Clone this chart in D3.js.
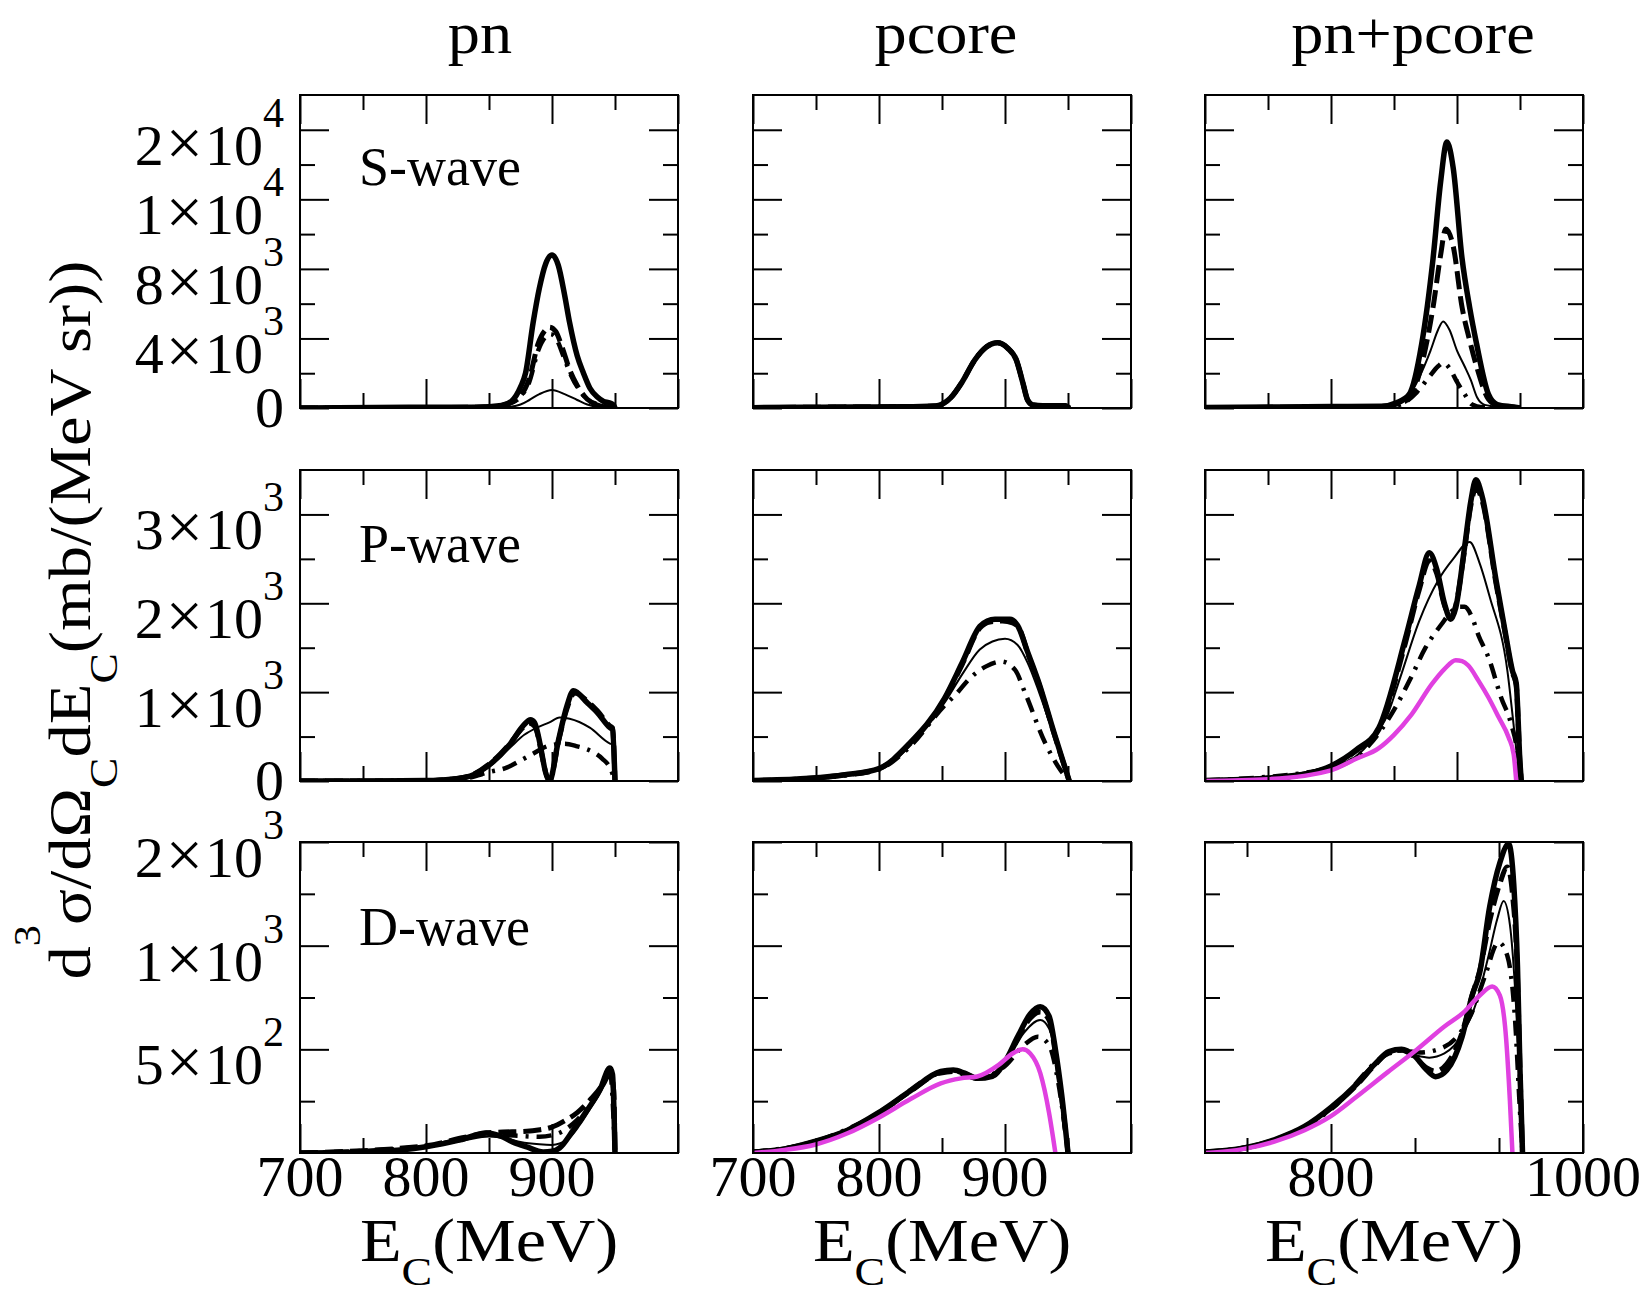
<!DOCTYPE html>
<html>
<head>
<meta charset="utf-8">
<script src="https://cdn.jsdelivr.net/npm/d3@7"></script>
<style>
  body { margin: 0; background: #fff; }
  svg { display: block; }
  text { font-family: "Liberation Serif", "Times New Roman", serif; fill: #000; }
</style>
</head>
<body>
<svg id="chart" width="1648" height="1296"></svg>
<script>
// ---- values: [E_C (MeV), d3sigma] ----
// S-wave, pn
let pnS_thick = [[700,0],[760,30],[800,40],[840,50],[860,150],[868,400],[875,1200],[879,2000],[885,4900],[890,6900],[895,8300],[900,8800],[905,8200],[910,6500],[914,4900],[920,3000],[925,2000],[930,1150],[936,630],[941,380],[946,290],[949,150],[950,0]]
let pnS_dashed = [[700,0],[800,20],[850,60],[865,250],[875,700],[882,1700],[889,3700],[895,4500],[898,4650],[903,4400],[908,3500],[914,2200],[920,1300],[928,500],[936,200],[945,60],[950,0]]
let pnS_thin = [[700,0],[850,10],[865,60],[875,200],[882,460],[890,800],[900,1035],[910,800],[920,460],[928,200],[938,50],[950,0]]
let pnS_dashdot = [[700,0],[800,20],[850,60],[865,230],[875,650],[882,1500],[889,3300],[895,4100],[899,4250],[904,3900],[909,3000],[915,1900],[922,1000],[930,400],[940,100],[950,0]]
// S-wave, pcore (all curves coincide)
let pcoreS_all = [[700,20],[740,40],[780,60],[820,70],[845,120],[852,300],[857,600],[866,1500],[876,2760],[885,3500],[894,3750],[902,3450],[909,2760],[914,1500],[918,450],[922,180],[930,130],[948,130],[951,0]]
// S-wave, pn+pcore
let pnpcS_thick = [[700,30],[760,60],[800,80],[840,100],[852,300],[862,780],[872,3700],[881,8600],[887,13000],[892,15300],[897,13800],[904,8600],[910,5800],[915.5,3700],[925,780],[932,200],[945,60],[950,0]]
let pnpcS_dashed = [[700,20],[800,60],[840,80],[852,220],[862,550],[872,2500],[881,5800],[887,8800],[891,10300],[897,9300],[904,5800],[910,3900],[915.5,2400],[925,500],[932,150],[945,40],[950,0]]
let pnpcS_thin = [[700,20],[800,50],[845,80],[855,250],[862,700],[870,1756],[879,3300],[885,4500],[889,4975],[894,4500],[900,3300],[906,2400],[911,1600],[916,600],[922,180],[935,50],[950,0]]
let pnpcS_dashdot = [[700,15],[800,40],[848,70],[858,300],[868,900],[878,1800],[885,2400],[889,2600],[894,2300],[900,1500],[906,800],[912,200],[920,50],[950,0]]

// P-wave, pn
let pnP_thick = [[700,0],[760,0],[800,5],[820,20],[835,56],[851,190],[867,420],[877,620],[883,690],[886,660],[898,0],[905,450],[912,850],[917,1016],[928,880],[936,770],[946,600],[948,580],[950,0]]
let pnP_dashed = [[700,0],[760,0],[800,5],[820,20],[835,60],[851,200],[867,430],[877,600],[882,650],[886,620],[898,10],[906,500],[912,820],[918,990],[928,900],[936,790],[946,620],[948,600],[950,0]]
let pnP_thin = [[700,0],[800,5],[820,18],[835,50],[851,170],[867,380],[878,520],[888,600],[898,660],[906,715],[914,700],[930,600],[946,421],[948,410],[950,0]]
let pnP_dashdot = [[700,0],[800,5],[820,15],[835,40],[850,100],[864,150],[875,230],[884,300],[897,395],[910,420],[920,390],[932,330],[940,250],[946,150],[950,0]]
// P-wave, pcore
let pcoreP_thick = [[700,5],[745,30],[773,70],[800,140],[824,420],[852,930],[866,1330],[880,1740],[886,1800],[892,1820],[904,1820],[910,1750],[918,1450],[927,1100],[939,540],[951,0]]
let pcoreP_dashed = [[700,5],[745,30],[773,70],[800,138],[824,410],[852,920],[866,1310],[880,1720],[888,1790],[898,1800],[906,1780],[912,1700],[918,1440],[927,1090],[939,530],[951,0]]
let pcoreP_thin = [[700,5],[745,28],[773,65],[800,135],[824,400],[852,880],[866,1200],[880,1480],[890,1570],[900,1600],[910,1530],[918,1330],[927,1000],[939,500],[951,0]]
let pcoreP_dashdot = [[700,5],[745,28],[773,62],[800,130],[824,380],[852,850],[862,990],[871,1140],[885,1290],[897,1345],[908,1250],[916,990],[932,425],[944,124],[951,0]]
// P-wave, pn+pcore
let pnpcP_thick = [[700,5],[750,30],[780,80],[800,170],[820,350],[838,600],[859,1600],[870,2200],[878,2570],[884,2380],[890,2000],[895,1820],[899,1950],[906,2630],[911,3150],[915,3390],[920,3200],[931,2260],[938,1700],[944,1240],[947,1100],[950,200],[951,0]]
let pnpcP_dashed = [[700,5],[750,30],[780,80],[800,165],[820,340],[838,580],[859,1550],[870,2150],[878,2480],[884,2330],[890,1980],[895,1850],[899,1980],[906,2600],[911,3100],[915,3300],[920,3150],[931,2220],[938,1680],[944,1220],[947,1080],[950,200],[951,0]]
let pnpcP_thin = [[700,5],[800,150],[830,420],[845,750],[855,1166],[870,1800],[885,2257],[897,2500],[910,2690],[918,2450],[926,2070],[940,1240],[946,490],[949,100],[950,0]]
let pnpcP_dashdot = [[700,5],[800,140],[830,400],[850,800],[863,1150],[875,1500],[888,1770],[895,1900],[901,1960],[906,1960],[912,1840],[917,1640],[925,1390],[935,940],[943,640],[948,300],[950,0]]
let pnpcP_magenta = [[700,0],[750,20],[800,120],[820,250],[838,370],[850,520],[864,750],[880,1090],[890,1260],[899,1360],[904,1350],[909,1300],[917,1130],[925,940],[933,720],[941,490],[945,300],[947,0]]

// D-wave, pn
let pnD_thick = [[700,0],[750,5],[780,15],[800,30],[827,63],[848,97],[859,82],[870,50],[880,29],[893,5],[900,8],[906,24],[917,111],[928,207],[938,304],[946,410],[948,380],[950,0]]
let pnD_dashed = [[700,0],[800,35],[830,75],[850,98],[861,101],[880,105],[889,111],[900,125],[910,155],[920,195],[930,255],[940,330],[946,400],[949,300],[950,0]]
let pnD_thin = [[700,0],[800,30],[830,60],[850,80],[865,68],[875,53],[890,42],[900,39],[912,63],[922,135],[932,230],[942,330],[947,380],[950,0]]
let pnD_dashdot = [[700,0],[800,32],[850,88],[870,84],[890,78],[905,95],[920,160],[935,270],[946,390],[950,0]]
// D-wave, pcore
let pcoreD_thick = [[700,5],[725,20],[749,56],[775,110],[799,192],[825,300],[849,393],[859,400],[868,385],[878,360],[890,370],[900,440],[910,560],[920,670],[928,705],[935,660],[940,500],[945,280],[950,0]]
let pcoreD_dashed = [[700,5],[725,20],[749,55],[775,108],[799,190],[825,298],[849,390],[859,398],[868,383],[878,362],[890,372],[900,435],[910,550],[920,650],[928,680],[935,640],[940,480],[945,260],[950,0]]
let pcoreD_thin = [[700,5],[749,55],[799,190],[849,385],[859,395],[878,360],[900,430],[915,580],[928,641],[935,600],[942,400],[947,180],[950,0]]
let pcoreD_dashdot = [[700,5],[749,55],[799,188],[849,385],[859,392],[878,360],[900,420],[915,520],[926,561],[935,520],[942,350],[948,100],[950,0]]
let pcoreD_magenta = [[700,0],[725,15],[749,40],[775,95],[799,168],[825,260],[849,336],[865,360],[878,369],[895,425],[906,480],[914,500],[920,480],[928,385],[935,192],[938,80],[940,0]]
// D-wave, pn+pcore
let pnpcD_thick = [[700,5],[731,24],[755,64],[779,128],[800,220],[820,330],[835,430],[846,489],[856,500],[866,470],[876,400],[883,368],[892,400],[904,560],[912,760],[918,870],[926,1190],[934,1400],[941,1490],[945,1300],[948,900],[950,400],[952,0]]
let pnpcD_dashed = [[700,5],[731,24],[755,63],[779,126],[800,215],[820,325],[835,425],[846,485],[856,495],[866,465],[876,410],[883,395],[892,430],[904,580],[912,760],[918,880],[926,1120],[934,1300],[940,1380],[944,1250],[948,850],[950,400],[952,0]]
let pnpcD_thin = [[700,5],[755,60],[800,215],[846,480],[856,495],[868,470],[878,460],[890,480],[904,570],[915,720],[925,950],[932,1130],[937,1215],[942,1100],[946,800],[950,300],[952,0]]
let pnpcD_dashdot = [[700,5],[755,60],[800,210],[846,480],[856,495],[870,485],[885,500],[900,560],[912,680],[922,850],[933,1016],[940,950],[946,650],[950,200],[952,0]]
let pnpcD_magenta = [[700,0],[731,20],[755,55],[779,110],[799,174],[820,270],[845,390],[868,498],[890,610],[905,677],[918,760],[928,803],[934,760],[939,550],[942,250],[944,0]]

// ---- labels and ticks ----
let colTitles = ['pn', 'pcore', 'pn+pcore']
let waveNames = ['S-wave', 'P-wave', 'D-wave']
let yMax = [18000, 3500, 1500]
let yMajor = [[0, 4000, 8000, 12000, 16000], [0, 1000, 2000, 3000], [500, 1000, 1500]]
let yMinor = [[2000, 6000, 10000, 14000], [500, 1500, 2500], [250, 750, 1250]]
let yLabels = [
  [['0', ''], ['4', '3'], ['8', '3'], ['1', '4'], ['2', '4']],
  [['0', ''], ['1', '3'], ['2', '3'], ['3', '3']],
  [['5', '2'], ['1', '3'], ['2', '3']]
]
let xMajor = [700, 800, 900, 1000]
let xMinor = [750, 850, 950]
let xMajorLast = [800, 1000]
let xMinorLast = [733.33, 866.67, 933.33]
let xLabels = [['700', '800', '900'], ['700', '800', '900'], ['800', '1000']]

let panelCurves = [
  [
    [[pnS_thick, 'thick'], [pnS_dashed, 'dashed'], [pnS_dashdot, 'dashdot'], [pnS_thin, 'thin']],
    [[pcoreS_all, 'dashed'], [pcoreS_all, 'dashdot'], [pcoreS_all, 'thin'], [pcoreS_all, 'thick']],
    [[pnpcS_thick, 'thick'], [pnpcS_dashed, 'dashed'], [pnpcS_dashdot, 'dashdot'], [pnpcS_thin, 'thin']]
  ],
  [
    [[pnP_thick, 'thick'], [pnP_dashed, 'dashed'], [pnP_dashdot, 'dashdot'], [pnP_thin, 'thin']],
    [[pcoreP_thick, 'thick'], [pcoreP_dashed, 'dashed'], [pcoreP_dashdot, 'dashdot'], [pcoreP_thin, 'thin']],
    [[pnpcP_thick, 'thick'], [pnpcP_dashed, 'dashed'], [pnpcP_dashdot, 'dashdot'], [pnpcP_thin, 'thin'], [pnpcP_magenta, 'magenta']]
  ],
  [
    [[pnD_thick, 'thick'], [pnD_dashed, 'dashed'], [pnD_dashdot, 'dashdot'], [pnD_thin, 'thin']],
    [[pcoreD_thick, 'thick'], [pcoreD_dashed, 'dashed'], [pcoreD_dashdot, 'dashdot'], [pcoreD_thin, 'thin'], [pcoreD_magenta, 'magenta']],
    [[pnpcD_thick, 'thick'], [pnpcD_dashed, 'dashed'], [pnpcD_dashdot, 'dashdot'], [pnpcD_thin, 'thin'], [pnpcD_magenta, 'magenta']]
  ]
]

let styles = {
  thick:   { color: '#000', width: 5.5, dash: null },
  dashed:  { color: '#000', width: 5,   dash: '18,7' },
  dashdot: { color: '#000', width: 4.5, dash: '15,8,3,8' },
  thin:    { color: '#000', width: 2,   dash: null },
  magenta: { color: '#e040e0', width: 4.5, dash: null }
}

// ---- layout ----
let colLeft = [300, 753, 1205]
let rowTop = [95, 470, 842]
let rowHeight = [313, 311, 311]
let panelW = 378
let titleX = [480, 946, 1413]
let majorLen = 29, minorLen = 15
let fontTick = 58

let svg = d3.select('#chart')
svg.append('rect').attr('width', 1648).attr('height', 1296).attr('fill', '#fff')

let x = d3.scaleLinear().domain([700, 1000]).range([0, panelW])

let drawTicks = (g, axis, values, len) => {
  g.call(axis.tickValues(values).tickSize(-len).tickSizeOuter(0).tickFormat(''))
  g.select('.domain').remove()
  g.selectAll('line').attr('stroke', '#000').attr('stroke-width', 2)
}

rowTop.forEach((top, r) => {
  let h = rowHeight[r]
  let y = d3.scaleLinear().domain([0, yMax[r]]).range([h, 0])
  colLeft.forEach((left, c) => {
    let g = svg.append('g').attr('transform', `translate(${left},${top})`)
    let lastCol = (r === 2 && c === 2)
    let xMaj = lastCol ? xMajorLast : xMajor
    let xMin = lastCol ? xMinorLast : xMinor

    let clipId = `clip-${r}-${c}`
    g.append('clipPath').attr('id', clipId)
      .append('rect').attr('x', 0).attr('y', -4).attr('width', panelW).attr('height', h + 4)

    // curves
    let line = d3.line()
      .x(d => x(d[0]))
      .y(d => y(d[1]))
      .curve(d3.curveMonotoneX)
    panelCurves[r][c].forEach(([data, kind]) => {
      let s = styles[kind]
      g.append('path')
        .attr('d', line(data))
        .attr('clip-path', `url(#${clipId})`)
        .attr('fill', 'none')
        .attr('stroke', s.color)
        .attr('stroke-width', s.width)
        .attr('stroke-linejoin', 'round')
        .attr('stroke-dasharray', s.dash)
    })

    // inward ticks on all four sides
    drawTicks(g.append('g'), d3.axisLeft(y), yMajor[r], majorLen)
    drawTicks(g.append('g'), d3.axisLeft(y), yMinor[r], minorLen)
    drawTicks(g.append('g').attr('transform', `translate(${panelW},0)`), d3.axisRight(y), yMajor[r], majorLen)
    drawTicks(g.append('g').attr('transform', `translate(${panelW},0)`), d3.axisRight(y), yMinor[r], minorLen)
    drawTicks(g.append('g').attr('transform', `translate(0,${h})`), d3.axisBottom(x), xMaj, majorLen)
    drawTicks(g.append('g').attr('transform', `translate(0,${h})`), d3.axisBottom(x), xMin, minorLen)
    drawTicks(g.append('g'), d3.axisTop(x), xMaj, majorLen)
    drawTicks(g.append('g'), d3.axisTop(x), xMin, minorLen)

    g.append('rect')
      .attr('width', panelW).attr('height', h)
      .attr('fill', 'none').attr('stroke', '#000').attr('stroke-width', 2)

    // y tick labels (first column only)
    if (c === 0) {
      yMajor[r].forEach((v, i) => {
        let [m, e] = yLabels[r][i]
        let t = g.append('text')
          .attr('x', -16)
          .attr('y', y(v) + (e ? 35 : 19))
          .attr('text-anchor', 'end')
          .style('font-size', fontTick + 'px')
        if (e) {
          t.append('tspan').text(m)
          t.append('tspan').attr('dx', 2).style('font-size', '66px').text('\u00d7')
          t.append('tspan').attr('dx', 2).text('10')
          t.append('tspan').attr('dy', -38).style('font-size', '42px').text(e)
        } else {
          t.text(m)
        }
      })
      g.append('text')
        .attr('x', 59).attr('y', [90, 92, 103][r])
        .style('font-size', '54px')
        .text(waveNames[r])
    }

    // x tick labels and axis title (bottom row)
    if (r === 2) {
      xLabels[c].forEach(lab => {
        g.append('text')
          .attr('x', x(+lab)).attr('y', h + 43)
          .attr('text-anchor', 'middle')
          .style('font-size', fontTick + 'px')
          .text(lab)
      })
      let xt = g.append('text')
        .attr('transform', `translate(${panelW / 2},${h + 108}) scale(1.12,1)`)
        .attr('text-anchor', 'middle')
        .style('font-size', '61px')
      xt.append('tspan').text('E')
      xt.append('tspan').attr('dy', 24).style('font-size', '41px').text('C')
      xt.append('tspan').attr('dy', -24).text('(MeV)')
    }

    // column titles
    if (r === 0) {
      svg.append('text')
        .attr('transform', `translate(${titleX[c]},53) scale(1.09,1)`)
        .attr('text-anchor', 'middle')
        .style('font-size', '59px')
        .text(colTitles[c])
    }
  })
})

// y axis title
let yt = svg.append('text')
  .attr('transform', 'translate(90,620) rotate(-90) scale(1.11,1)')
  .attr('text-anchor', 'middle')
  .style('font-size', '60px')
yt.append('tspan').text('d')
yt.append('tspan').attr('dy', -50).style('font-size', '38px').text('3')
yt.append('tspan').attr('dy', 50).text('\u03c3/d\u03a9')
yt.append('tspan').attr('dy', 27).style('font-size', '41px').text('C')
yt.append('tspan').attr('dy', -27).text('dE')
yt.append('tspan').attr('dy', 27).style('font-size', '41px').text('C')
yt.append('tspan').attr('dy', -27).text('(mb/(MeV sr))')
</script>
</body>
</html>
